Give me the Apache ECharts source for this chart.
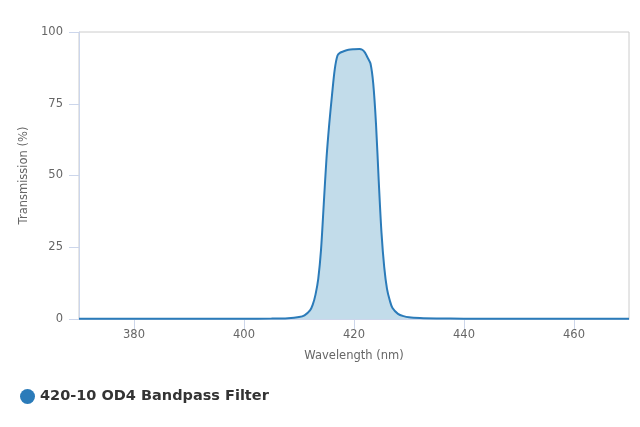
<!DOCTYPE html>
<html>
<head>
<meta charset="utf-8">
<script src="https://cdn.jsdelivr.net/npm/echarts@6/dist/echarts.min.js"></script>
<style>
    html, body { margin: 0; padding: 0; background: #fff; }
    #chart { width: 640px; height: 427px; }
</style>
</head>
<body>
<div id="chart"></div>
<script>
// 波长 (nm)
var wavelengths = [370, 380, 390, 400, 405, 408, 410, 411, 412, 412.5, 413, 413.5, 414, 414.5,
    415, 415.5, 416, 416.5, 417, 417.5, 418, 419, 420, 421, 421.5, 422, 422.5, 423, 423.5,
    424, 424.5, 425, 425.5, 426, 426.5, 427, 428, 429, 430, 432, 435, 440, 450, 460, 470];
// 透过率 (%)
var transmission = [0.05, 0.05, 0.05, 0.1, 0.15, 0.3, 0.7, 1.3, 3.0, 5.0, 8.5, 14, 24, 40,
    56, 68, 78, 87, 91.8, 92.8, 93.2, 93.8, 94.0, 94.1, 93.8, 92.8, 91, 89, 82,
    68, 48, 30, 18, 10.5, 6.5, 3.8, 1.8, 1.0, 0.6, 0.35, 0.2, 0.1, 0.05, 0.05, 0.05];
var xTicks = [380, 400, 420, 440, 460];
var seriesName = '420-10 OD4 Bandpass Filter';

var chart = echarts.init(document.getElementById('chart'));

var points = [];
for (var i = 0; i < wavelengths.length; i++) {
    points.push([wavelengths[i], transmission[i]]);
}

var axisFont = 'DejaVu Sans';

var option = {
    animation: false,
    grid: {
        left: 79,
        right: 11,
        top: 32,
        bottom: 108,
        show: true,
        borderColor: '#cccccc',
        borderWidth: 1
    },
    legend: {
        left: 15,
        top: 384,
        icon: 'circle',
        itemWidth: 15,
        itemHeight: 15,
        textStyle: {
            fontFamily: axisFont,
            fontSize: 14.5,
            fontWeight: 'bold',
            color: '#333'
        },
        data: [seriesName]
    },
    xAxis: {
        type: 'value',
        min: 370,
        max: 470,
        name: 'Wavelength (nm)',
        nameLocation: 'middle',
        nameGap: 31,
        nameTextStyle: { fontFamily: axisFont, fontSize: 11.5, color: '#666' },
        axisLine: { show: true, lineStyle: { color: '#ccd6eb' } },
        axisTick: { show: true, length: 10, customValues: xTicks, lineStyle: { color: '#ccd6eb' } },
        axisLabel: { customValues: xTicks, margin: 10, fontFamily: axisFont, fontSize: 11.5, color: '#666' },
        splitLine: { show: false }
    },
    yAxis: {
        type: 'value',
        min: 0,
        max: 100,
        interval: 25,
        name: 'Transmission (%)',
        nameLocation: 'middle',
        nameGap: 49,
        nameTextStyle: { fontFamily: axisFont, fontSize: 11.5, color: '#666' },
        axisLine: { show: true, lineStyle: { color: '#ccd6eb' } },
        axisTick: { show: true, length: 10, lineStyle: { color: '#ccd6eb' } },
        axisLabel: { margin: 16, fontFamily: axisFont, fontSize: 11.5, color: '#666' },
        splitLine: { show: false }
    },
    series: [
        {
            name: seriesName,
            type: 'line',
            data: points,
            showSymbol: false,
            smooth: 0.3,
            color: '#2b7bb9',
            lineStyle: { width: 2, color: '#2b7bb9' },
            areaStyle: { color: '#c2dcea', opacity: 1 }
        }
    ]
};

chart.setOption(option);
</script>
</body>
</html>
